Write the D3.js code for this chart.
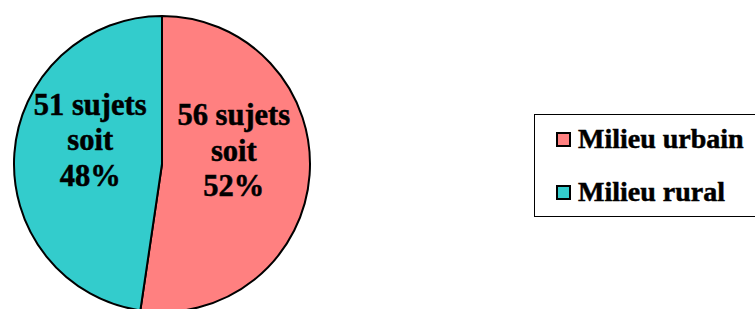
<!DOCTYPE html>
<html><head><meta charset="utf-8">
<script src="https://cdn.jsdelivr.net/npm/d3@7"></script>
<style>html,body{margin:0;padding:0;background:#fff;overflow:hidden}</style>
</head><body>
<svg id="c" width="755" height="309"></svg>
<script>
const categories = ["Milieu urbain", "Milieu rural"];
const values = [56, 51];
const percents = ["52%", "48%"];
const colors = ["#FF8080", "#33CCCC"];

const svg = d3.select("#c");
const cx = 162, cy = 164, r = 148;
const g = svg.append("g").attr("transform", `translate(${cx},${cy})`);
const pie = d3.pie().sort(null).value(d => d)(values);
const arc = d3.arc().innerRadius(0).outerRadius(r);
g.selectAll("path").data(pie).join("path")
  .attr("d", arc).attr("fill", (d,i) => colors[i])
  .attr("stroke", "#000").attr("stroke-width", 2).attr("stroke-linejoin", "round");

const labelArc = d3.arc().innerRadius(72).outerRadius(72);
const font = "'Liberation Serif','Times New Roman',Times,serif";
pie.forEach((d,i) => {
  const [x,y] = labelArc.centroid(d);
  const lines = [values[i] + " sujets", "soit", percents[i]];
  const t = g.append("text").attr("text-anchor","middle")
    .attr("font-family", font).attr("font-weight","bold").attr("font-size", 30.5)
    .attr("fill","#000").attr("stroke","#000").attr("stroke-width",0.5);
  lines.forEach((l,j) => {
    t.append("tspan").attr("x", x).attr("y", y - 8.5 + (j-1)*35.5).text(l);
  });
});

// legend
const lg = svg.append("g");
lg.append("rect").attr("x", 534.5).attr("y", 114.5).attr("width", 240).attr("height", 102)
  .attr("fill","#fff").attr("stroke","#000").attr("stroke-width",1);
categories.forEach((c,i) => {
  const y0 = 132 + i*53;
  lg.append("rect").attr("x", 557).attr("y", y0 + 1).attr("width", 13).attr("height", 13)
    .attr("fill", colors[i]).attr("stroke","#000").attr("stroke-width",2);
  lg.append("text").attr("x", 578).attr("y", y0 + 15.5)
    .attr("font-family", font).attr("font-weight","bold").attr("font-size", 28)
    .attr("fill","#000").attr("stroke","#000").attr("stroke-width",0.5).text(c);
});
</script>
</body></html>
